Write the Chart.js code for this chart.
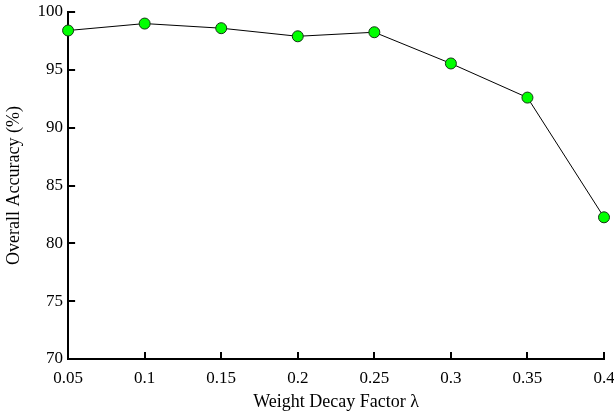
<!DOCTYPE html>
<html>
<head>
<meta charset="utf-8">
<script src="https://cdn.jsdelivr.net/npm/chart.js@4/dist/chart.umd.min.js"></script>
<style>
html,body{margin:0;padding:0;background:#fff;}
#wrap{width:614px;height:414px;}
</style>
</head>
<body>
<div id="wrap"><canvas id="c" width="614" height="414"></canvas></div>
<script>
const lambdas = [0.05, 0.1, 0.15, 0.2, 0.25, 0.3, 0.35, 0.4];
const accuracy = [98.4, 99.0, 98.6, 97.9, 98.25, 95.55, 92.6, 82.25];
const yTicks = [70, 75, 80, 85, 90, 95, 100];
const xTitle = 'Weight Decay Factor \u03BB';
const yTitle = 'Overall Accuracy (%)';

const pts = lambdas.map((x, i) => ({x: x, y: accuracy[i]}));
const family = '"Liberation Serif", "Times New Roman", serif';
const tickFont = {family: family, size: 17};
const titleFont = {family: family, size: 18};

const inwardTicks = {
  id: 'inwardTicks',
  afterDraw(chart) {
    const ctx = chart.ctx, xs = chart.scales.x, ys = chart.scales.y;
    const len = 7;
    ctx.save();
    ctx.strokeStyle = '#000';
    ctx.lineWidth = 2;
    ctx.beginPath();
    for (const t of xs.ticks) {
      const px = Math.round(xs.getPixelForValue(t.value));
      if (Math.abs(px - xs.left) < 2) continue;
      ctx.moveTo(px, ys.bottom);
      ctx.lineTo(px, ys.bottom - len);
    }
    for (const t of ys.ticks) {
      const py = Math.round(ys.getPixelForValue(t.value));
      if (Math.abs(py - ys.bottom) < 2) continue;
      ctx.moveTo(xs.left, py);
      ctx.lineTo(xs.left + len, py);
    }
    ctx.stroke();
    ctx.restore();
  }
};

new Chart(document.getElementById('c'), {
  type: 'line',
  data: {
    datasets: [{
      data: pts,
      borderColor: '#000',
      borderWidth: 1,
      pointBackgroundColor: '#00ff00',
      pointBorderColor: '#143314',
      pointBorderWidth: 1,
      pointRadius: 5.5,
      tension: 0,
      clip: false
    }]
  },
  options: {
    responsive: false,
    animation: false,
    events: [],
    layout: {padding: {left: 1, right: 0, top: 0, bottom: 0}},
    plugins: {legend: {display: false}, tooltip: {enabled: false}},
    scales: {
      x: {
        type: 'linear',
        min: 0.05, max: 0.4,
        border: {display: true, color: '#000', width: 2},
        grid: {drawOnChartArea: false, drawTicks: false},
        ticks: {
          stepSize: 0.05, color: '#000', font: tickFont, padding: 9,
          callback: v => parseFloat(v.toFixed(2)).toString()
        },
        afterFit: s => { s.paddingRight = 10; },
        title: {display: true, text: xTitle, color: '#000', font: titleFont, padding: {top: -6, bottom: 1}}
      },
      y: {
        min: 70, max: 100,
        afterBuildTicks: s => { s.ticks = yTicks.map(v => ({value: v})); },
        afterFit: s => { s.paddingTop = 12; },
        border: {display: true, color: '#000', width: 2},
        grid: {drawOnChartArea: false, drawTicks: false},
        ticks: {color: '#000', font: tickFont, padding: 5},
        title: {display: true, text: yTitle, color: '#000', font: titleFont, padding: {top: 2, bottom: 8}}
      }
    }
  },
  plugins: [inwardTicks]
});
</script>
</body>
</html>
